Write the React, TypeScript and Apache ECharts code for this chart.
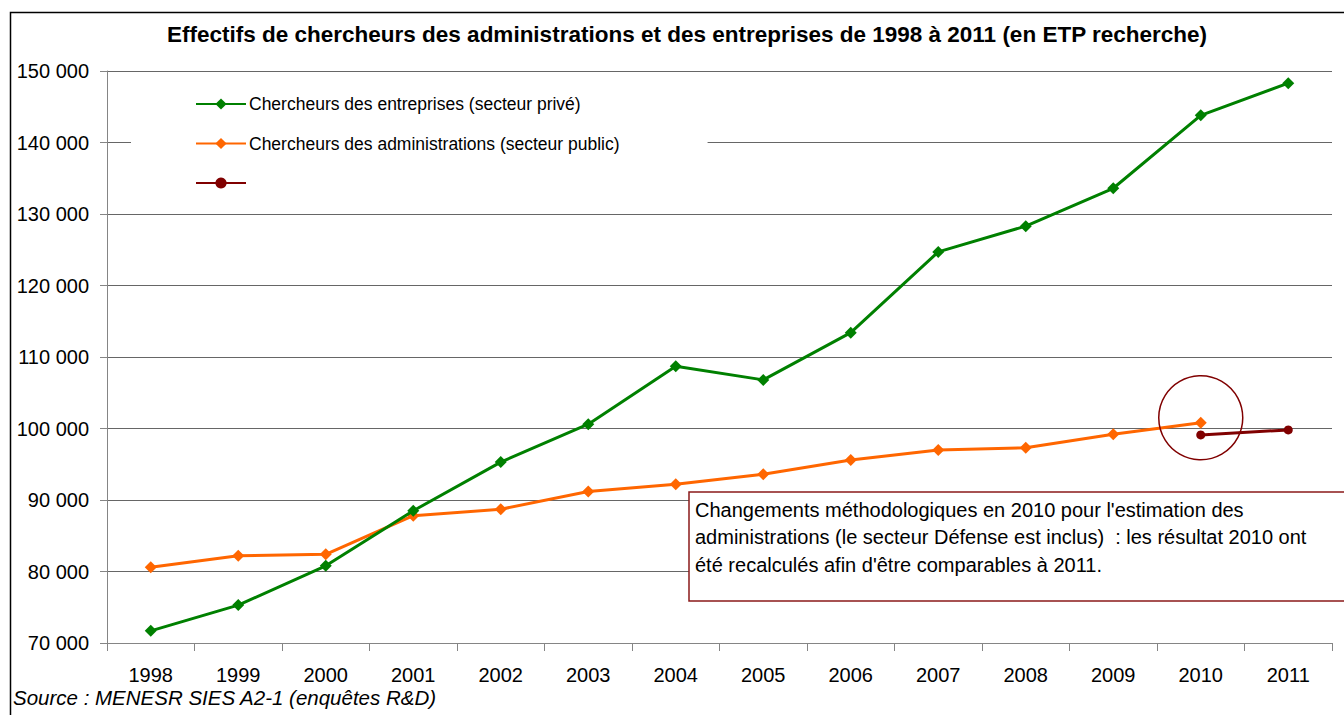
import React, { useEffect, useRef } from "react";
import * as echarts from "echarts";

const years = ["1998", "1999", "2000", "2001", "2002", "2003", "2004", "2005", "2006", "2007", "2008", "2009", "2010", "2011"];
const entreprises = [71700, 75300, 80800, 88500, 95300, 100600, 108700, 106800, 113400, 124700, 128300, 133600, 143800, 148300];
const administrations = [80600, 82200, 82400, 87800, 88700, 91200, 92200, 93600, 95600, 97000, 97300, 99200, 100800, null];
const administrationsNew = [null, null, null, null, null, null, null, null, null, null, null, null, 99100, 99800];
const seriesNames = ["Chercheurs des entreprises (secteur privé)", "Chercheurs des administrations (secteur public)", " "];
const titleText = "Effectifs de chercheurs des administrations et des entreprises de 1998 à 2011 (en ETP recherche)";
const sourceText = "Source : MENESR SIES A2-1 (enquêtes R&D)";
const noteLines = [
  "Changements méthodologiques en 2010 pour l'estimation des",
  "administrations (le secteur Défense est inclus)  : les résultat 2010 ont",
  "été recalculés afin d'être comparables à 2011.",
];
const circleAnchor = ["2010", 101500];

const FONT = "'Liberation Sans', Arial, sans-serif";

export default function App() {
  const ref = useRef<HTMLDivElement>(null);
  useEffect(() => {
    if (!ref.current) return;
    const chart = echarts.init(ref.current, null, { renderer: "svg" });
    const axisColor = "#858585";
    chart.setOption({
      animation: false,
      backgroundColor: "#fff",
      textStyle: { fontFamily: FONT },
      title: {
        text: titleText,
        left: 162,
        top: 18,
        textStyle: { fontFamily: FONT, fontWeight: "bold", fontSize: 22.5, color: "#000" },
      },
      grid: { left: 107, right: 12, top: 71, bottom: 72, containLabel: false },
      legend: {
        data: seriesNames,
        orient: "vertical",
        left: 131,
        top: 81,
        backgroundColor: "#fff",
        padding: [14, 88, 14, 64],
        itemWidth: 50,
        itemHeight: 14,
        itemGap: 21.5,
        textStyle: { fontFamily: FONT, fontSize: 17.5, color: "#000", padding: [0, 0, 0, -2] },
      },
      xAxis: {
        type: "category",
        data: years,
        boundaryGap: true,
        axisLine: { lineStyle: { color: axisColor, width: 1 } },
        axisTick: { show: true, length: 8, lineStyle: { color: axisColor } },
        axisLabel: { fontFamily: FONT, fontSize: 20, color: "#000", margin: 22 },
        splitLine: { show: false },
      },
      yAxis: {
        type: "value",
        min: 70000,
        max: 150000,
        interval: 10000,
        axisLine: { show: true, lineStyle: { color: axisColor, width: 1 } },
        axisTick: { show: true, length: 7, lineStyle: { color: axisColor } },
        axisLabel: {
          fontFamily: FONT,
          fontSize: 20,
          color: "#000",
          margin: 18,
          formatter: (v: number) => String(v).replace(/\B(?=(\d{3})+(?!\d))/g, " "),
        },
        splitLine: { show: true, lineStyle: { color: "#666", width: 1 } },
      },
      series: [
        {
          name: seriesNames[0],
          type: "line",
          data: entreprises,
          symbol: "diamond",
          symbolSize: 12,
          lineStyle: { color: "#008000", width: 3 },
          itemStyle: { color: "#008000" },
          z: 3,
        },
        {
          name: seriesNames[1],
          type: "line",
          data: administrations,
          symbol: "diamond",
          symbolSize: 12,
          lineStyle: { color: "#FF6600", width: 3 },
          itemStyle: { color: "#FF6600" },
          z: 2,
        },
        {
          name: seriesNames[2],
          type: "line",
          data: administrationsNew,
          symbol: "circle",
          symbolSize: 9,
          lineStyle: { color: "#800000", width: 3 },
          itemStyle: { color: "#800000" },
          z: 4,
        },
      ],
    });
    const c = chart.convertToPixel({ xAxisIndex: 0, yAxisIndex: 0 }, circleAnchor) as number[];
    chart.setOption({
      graphic: [
        {
          type: "rect",
          left: 8,
          top: 10,
          shape: { width: 1400, height: 800 },
          style: { fill: "none", stroke: "#000", lineWidth: 1.5 },
          silent: true,
          z: 100,
        },
        {
          type: "circle",
          shape: { cx: c[0], cy: c[1], r: 42 },
          style: { fill: "none", stroke: "#800000", lineWidth: 1.5 },
          z: 100,
        },
        {
          type: "group",
          x: 689,
          y: 492,
          z: 100,
          children: [
            {
              type: "rect",
              shape: { x: 0, y: 0, width: 700, height: 109 },
              style: { fill: "#fff", stroke: "#8B1A1A", lineWidth: 1.5 },
            },
            {
              type: "text",
              x: 6,
              y: 4,
              style: {
                text: noteLines.join("\n"),
                font: `20px ${FONT}`,
                lineHeight: 27.5,
                fill: "#000",
              },
            },
          ],
        },
        {
          type: "text",
          left: 13,
          top: 687,
          style: {
            text: sourceText,
            font: `italic 20.5px ${FONT}`,
            fill: "#000",
          },
          z: 100,
        },
      ],
    });
    return () => chart.dispose();
  }, []);
  return <div ref={ref} style={{ position: "fixed", left: 0, top: 0, width: 1344, height: 715 }} />;
}
